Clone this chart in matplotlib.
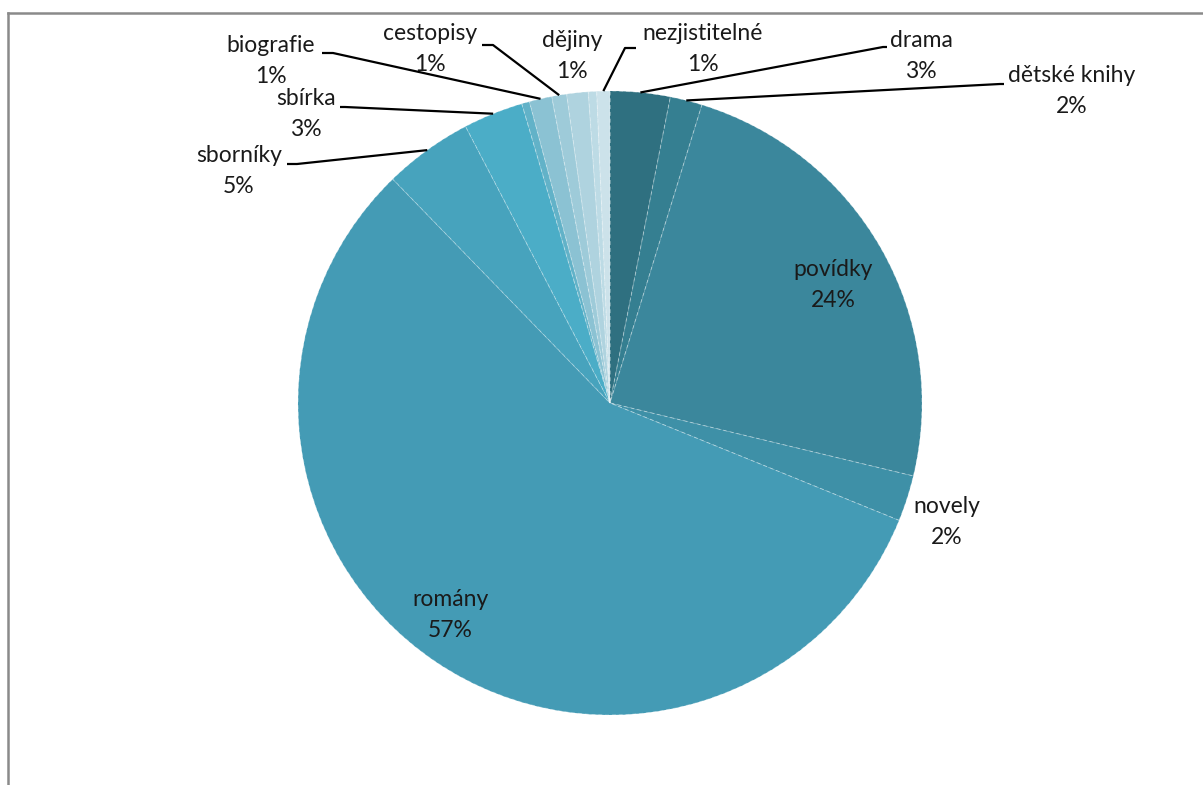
import numpy as np
import matplotlib
matplotlib.use("Agg")
import matplotlib.pyplot as plt
from matplotlib.lines import Line2D

# Book genres, clockwise from 12 o'clock (share in %)
genres = ["drama", "dětské knihy", "povídky", "novely", "romány", "sborníky",
          "sbírka", "", "biografie", "cestopisy", "dějiny", "", "nezjistitelné"]
shares = [3.1, 1.66, 24.0, 2.38, 56.6, 4.6, 3.1, 0.4, 1.17, 0.77, 1.11, 0.43, 0.68]
colors = ["#2F7080", "#357F91", "#3B879C", "#3E90A7", "#449BB5", "#47A3BD",
          "#4BADC7", "#62B2C8", "#8BC2D3", "#9ECBD9", "#AFD3DF", "#BDDBE5", "#CCE2EA"]

W, H = 1203, 785
CX, CY, R = 610, 403, 312

fig = plt.figure(figsize=(W / 100, H / 100), dpi=100)
ax = fig.add_axes([0, 0, 1, 1])


def py(y):
    return H - y


wedges, _ = ax.pie(shares, colors=colors, startangle=90, counterclock=False,
                   center=(CX, py(CY)), radius=R,
                   wedgeprops=dict(edgecolor=(1, 1, 1, 0.35), linewidth=0.7,
                                   linestyle=(0, (4, 3))))
ax.set_xlim(0, W)
ax.set_ylim(0, H)
ax.set_aspect("auto")
ax.axis("off")

plt.rcParams["font.family"] = ["Lato", "DejaVu Sans"]
font = dict(fontsize=16.5, color="#1a1a1a", ha="center", va="center",
            linespacing=1.55, family=["Lato", "DejaVu Sans"])

# label placement: text centre, then leader path from label side (None = no leader)
layout = {
    "drama": ((921, 56), [(887, 47), (883, 47)]),
    "dětské knihy": ((1072, 91), [(1004, 84), (1000, 84)]),
    "povídky": ((833, 285), None),
    "novely": ((947, 522), None),
    "romány": ((450, 615), None),
    "sborníky": ((239, 171), [(287, 164), (297, 164)]),
    "sbírka": ((306, 114), [(340, 107), (345, 107)]),
    "biografie": ((271, 61), [(322, 53), (333, 53)]),
    "cestopisy": ((430, 49), [(482, 45), (493, 45)]),
    "dějiny": ((572, 56), None),
    "nezjistitelné": ((703, 49), [(636, 48), (625, 48)]),
}

total = sum(shares)
for w, name, val in zip(wedges, genres, shares):
    if not name:
        continue
    (tx, ty), path = layout[name]
    pct = val / total * 100
    ax.text(tx, py(ty), f"{name}\n{round(pct)}%", **font)
    if path:
        mid = np.deg2rad((w.theta1 + w.theta2) / 2)
        sx = w.center[0] + w.r * np.cos(mid)
        sy = w.center[1] + w.r * np.sin(mid)
        xs = [p[0] for p in path] + [sx]
        ys = [py(p[1]) for p in path] + [sy]
        ax.plot(xs, ys, color="black", lw=1.6, solid_capstyle="butt", zorder=5)

# chart area frame (top and left edges visible)
frame_col = "#8A8A8A"
fig.add_artist(Line2D([8 / W, 1], [1 - 13 / H, 1 - 13 / H], color=frame_col, lw=1.8,
                      transform=fig.transFigure))
fig.add_artist(Line2D([8 / W, 8 / W], [0, 1 - 13 / H], color=frame_col, lw=1.8,
                      transform=fig.transFigure))

fig.savefig("out.png", dpi=100, facecolor="white")
